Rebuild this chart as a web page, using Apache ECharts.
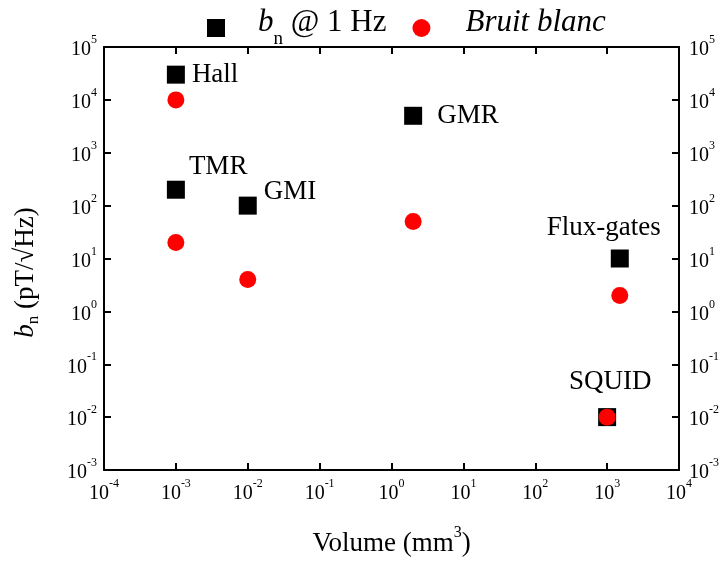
<!DOCTYPE html>
<html><head><meta charset="utf-8">
<script src="https://cdn.jsdelivr.net/npm/echarts@6/dist/echarts.min.js"></script>
<style>html,body{margin:0;padding:0;background:#fff}#c{width:722px;height:562px}</style>
</head><body><div id="c"></div>
<script>
// ---- data ----
const sensors = ['Hall', 'TMR', 'GMI', 'GMR', 'Flux-gates', 'SQUID'];
const volumeMm3 = [1e-3, 1e-3, 1e-2, 2, 1500, 1000];
const bnAt1Hz = [3e4, 200, 100, 5000, 10, 0.01];
const whiteNoise = [1e4, 20, 4, 50, 2, 0.01];
const seriesNames = ['b_n @ 1 Hz', 'Bruit blanc'];
const xRange = [1e-4, 1e4];
const yRange = [1e-3, 1e5];

// ---- styling ----
const FONT = 'Liberation Serif';
const labelPlacement = {
  'Hall': { align: 'left', offset: [16, 0] },
  'TMR': { align: 'left', offset: [13, -23] },
  'GMI': { align: 'left', offset: [16, -14] },
  'GMR': { align: 'left', offset: [24, 0] },
  'Flux-gates': { align: 'center', offset: [-16, -31] },
  'SQUID': { align: 'center', offset: [3, -35] }
};

const tickRich = {
  b: { fontFamily: FONT, fontSize: 20, color: '#000', lineHeight: 26, verticalAlign: 'bottom' },
  s: { fontFamily: FONT, fontSize: 12, color: '#000', lineHeight: 12, verticalAlign: 'top' }
};
function expLabel(v) {
  const e = Math.round(Math.log10(v));
  return '{b|10}{s|' + e + '}';
}
const axisLine = { show: true, onZero: false, lineStyle: { color: '#000', width: 2 } };
const axisTick = { show: true, inside: true, length: 7, lineStyle: { color: '#000', width: 2 } };

const squareData = sensors.map((n, i) => ({
  name: n,
  value: [volumeMm3[i], bnAt1Hz[i]],
  label: {
    show: true, position: 'inside', formatter: n,
    align: labelPlacement[n].align, verticalAlign: 'middle',
    offset: labelPlacement[n].offset,
    color: '#000', opacity: 1, fontFamily: FONT, fontSize: 27
  }
}));
const circleData = sensors.map((n, i) => [volumeMm3[i], whiteNoise[i]]);

const chart = echarts.init(document.getElementById('c'), null, { renderer: 'canvas' });
chart.setOption({
  animation: false,
  backgroundColor: '#fff',
  grid: { left: 104, right: 40, top: 47, bottom: 86, containLabel: false },
  legend: {
    left: 207, top: 7, padding: 0,
    itemWidth: 18, itemHeight: 18, itemGap: 26,
    data: seriesNames,
    formatter: function (name) {
      if (name === seriesNames[0]) return '{sp|}{bi|b}{sub|n}{t| @ 1 Hz}';
      return '{sp2|}{it|Bruit blanc}';
    },
    textStyle: {
      fontFamily: FONT, fontSize: 31, color: '#000',
      rich: {
        sp: { width: 28, lineHeight: 42 },
        sp2: { width: 30, lineHeight: 42 },
        bi: { fontFamily: FONT, fontSize: 31, fontStyle: 'italic', color: '#000', lineHeight: 32, verticalAlign: 'top' },
        sub: { fontFamily: FONT, fontSize: 19, color: '#000', lineHeight: 19, verticalAlign: 'bottom' },
        t: { fontFamily: FONT, fontSize: 31, color: '#000', lineHeight: 32, verticalAlign: 'top' },
        it: { fontFamily: FONT, fontSize: 31, fontStyle: 'italic', color: '#000', lineHeight: 32, verticalAlign: 'top' }
      }
    }
  },
  xAxis: [{
    type: 'log', logBase: 10, min: xRange[0], max: xRange[1], splitNumber: 8,
    position: 'bottom',
    axisLine: axisLine, axisTick: axisTick, splitLine: { show: false }, minorTick: { show: false },
    axisLabel: { formatter: expLabel, rich: tickRich, margin: 8 },
    name: '{t|Volume (mm}{s|3}{t|)}', nameLocation: 'middle', nameGap: 55,
    nameTextStyle: {
      rich: {
        t: { fontFamily: FONT, fontSize: 27, color: '#000', lineHeight: 32, verticalAlign: 'bottom' },
        s: { fontFamily: FONT, fontSize: 16, color: '#000', lineHeight: 16, verticalAlign: 'top' }
      }
    }
  }, {
    type: 'log', logBase: 10, min: xRange[0], max: xRange[1], splitNumber: 8,
    position: 'top',
    axisLine: axisLine, axisTick: axisTick, splitLine: { show: false }, minorTick: { show: false },
    axisLabel: { show: false }
  }],
  yAxis: [{
    type: 'log', logBase: 10, min: yRange[0], max: yRange[1], splitNumber: 8,
    position: 'left',
    axisLine: axisLine, axisTick: axisTick, splitLine: { show: false }, minorTick: { show: false },
    axisLabel: { formatter: expLabel, rich: tickRich, margin: 7 },
    name: '{bi|b}{sub|n}{t| (pT/√Hz)}', nameLocation: 'middle', nameGap: 62, nameRotate: 90,
    nameTextStyle: {
      padding: [0, 28, 0, 0],
      rich: {
        bi: { fontFamily: FONT, fontSize: 27, fontStyle: 'italic', color: '#000', lineHeight: 30, verticalAlign: 'top' },
        sub: { fontFamily: FONT, fontSize: 17, color: '#000', lineHeight: 17, verticalAlign: 'bottom' },
        t: { fontFamily: FONT, fontSize: 27, color: '#000', lineHeight: 30, verticalAlign: 'top' }
      }
    }
  }, {
    type: 'log', logBase: 10, min: yRange[0], max: yRange[1], splitNumber: 8,
    position: 'right',
    axisLine: axisLine, axisTick: axisTick, splitLine: { show: false }, minorTick: { show: false },
    axisLabel: { formatter: expLabel, rich: tickRich, margin: 10 }
  }],
  series: [{
    name: seriesNames[0], type: 'scatter', xAxisIndex: 0, yAxisIndex: 0,
    symbol: 'rect', symbolSize: 18,
    itemStyle: { color: '#000', opacity: 1 },
    emphasis: { disabled: true },
    data: squareData, z: 2
  }, {
    name: seriesNames[1], type: 'scatter', xAxisIndex: 0, yAxisIndex: 0,
    symbol: 'circle', symbolSize: 17,
    itemStyle: { color: '#ff0000', opacity: 1 },
    emphasis: { disabled: true },
    data: circleData, z: 3
  }]
});
</script>
</body></html>
